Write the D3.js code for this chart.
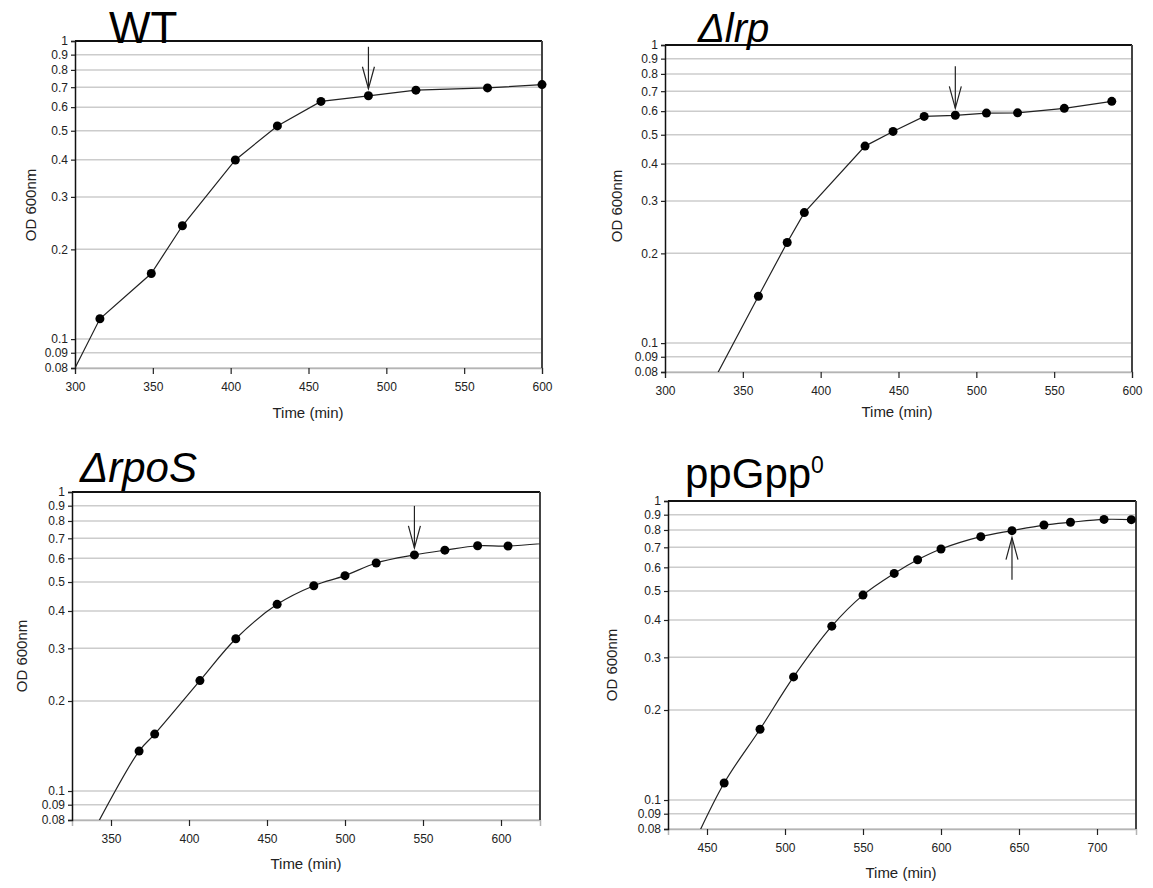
<!DOCTYPE html>
<html>
<head>
<meta charset="utf-8">
<script src="https://cdn.jsdelivr.net/npm/d3@7/dist/d3.min.js"></script>
<style>
  html, body { margin: 0; padding: 0; background: #ffffff; }
  svg { display: block; font-family: "Liberation Sans", Arial, sans-serif; }
</style>
</head>
<body>
<svg id="chart" width="1153" height="888"></svg>
<script>
// ---------------- DATA ----------------
const yTickValues = [0.08, 0.09, 0.1, 0.2, 0.3, 0.4, 0.5, 0.6, 0.7, 0.8, 0.9, 1];

// WT
const wtTime = [285, 316, 349, 369, 403, 430, 458, 488.5, 519, 565, 600];
const wtOD   = [0.056, 0.117, 0.166, 0.240, 0.399, 0.519, 0.627, 0.655, 0.684, 0.696, 0.714];
const wtXTicks = [300, 350, 400, 450, 500, 550, 600];
const wtArrow = [488.5, 0.655];

// Δlrp
const lrpTime = [320, 360, 378.5, 389.5, 428.5, 446.5, 466.5, 486.5, 506.5, 526.5, 556.5, 587];
const lrpOD   = [0.058, 0.1436, 0.2175, 0.274, 0.458, 0.513, 0.576, 0.581, 0.591, 0.592, 0.613, 0.647];
const lrpXTicks = [300, 350, 400, 450, 500, 550, 600];
const lrpArrow = [486.5, 0.581];

// ΔrpoS
const rpoTime = [330, 368, 378, 407, 430, 456.5, 480, 500, 520, 544.5, 564, 585, 604.5, 645];
const rpoOD   = [0.060, 0.136, 0.155, 0.234, 0.323, 0.421, 0.486, 0.525, 0.579, 0.616, 0.639, 0.661, 0.660, 0.686];
const rpoXTicks = [350, 400, 450, 500, 550, 600];
const rpoArrow = [544.5, 0.616];

// ppGpp0
const ppTime = [440, 461, 484, 505.5, 530, 550, 570, 585, 600, 625.5, 645.5, 666, 683, 704.5, 722];
const ppOD   = [0.0686, 0.114, 0.1725, 0.258, 0.3815, 0.4845, 0.5725, 0.636, 0.691, 0.760, 0.796, 0.831, 0.849, 0.868, 0.866];
const ppXTicks = [450, 500, 550, 600, 650, 700];
const ppArrow = [645.5, 0.796];

// ---------------- LAYOUT ----------------
const panels = [
  { id: "wt",  time: wtTime,  od: wtOD,  xDomain: [300, 600], xTicks: wtXTicks, arrow: wtArrow, arrowDir: "down", smooth: false,
    box: { left: 75, right: 542, top: 41, bottom: 368 },
    title: { x: 109, y: 43, size: 44, parts: [{ t: "WT" }] },
    yLabel: { x: 31, y: 205 }, xLabel: { x: 308, y: 418 } },
  { id: "lrp", time: lrpTime, od: lrpOD, xDomain: [300, 600], xTicks: lrpXTicks, arrow: lrpArrow, arrowDir: "down", smooth: false,
    box: { left: 665, right: 1132, top: 45, bottom: 372 },
    title: { x: 698, y: 42, size: 40, parts: [{ t: "\u0394lrp", italic: true }] },
    yLabel: { x: 617, y: 206 }, xLabel: { x: 897, y: 417 } },
  { id: "rpo", time: rpoTime, od: rpoOD, xDomain: [325, 625], xTicks: rpoXTicks, arrow: rpoArrow, arrowDir: "down", smooth: true,
    box: { left: 72, right: 540, top: 492, bottom: 820 },
    title: { x: 80, y: 482, size: 42, parts: [{ t: "\u0394rpoS", italic: true }] },
    yLabel: { x: 22, y: 656 }, xLabel: { x: 306, y: 869 } },
  { id: "pp",  time: ppTime,  od: ppOD,  xDomain: [425, 725], xTicks: ppXTicks, arrow: ppArrow, arrowDir: "up", smooth: true,
    box: { left: 668, right: 1136, top: 501, bottom: 829 },
    title: { x: 685, y: 488, size: 42, parts: [{ t: "ppGpp" }, { t: "0", sup: true }] },
    yLabel: { x: 612, y: 665 }, xLabel: { x: 901, y: 878 } }
];

const svg = d3.select("#chart");
const font = '"Liberation Sans", Arial, sans-serif';

panels.forEach(p => {
  const b = p.box;
  const x = d3.scaleLinear().domain(p.xDomain).range([b.left, b.right]);
  const y = d3.scaleLog().domain([0.08, 1]).range([b.bottom, b.top]);
  const g = svg.append("g").attr("class", "panel-" + p.id);

  // clip
  const clipId = "clip-" + p.id;
  svg.append("defs").append("clipPath").attr("id", clipId)
    .append("rect").attr("x", b.left).attr("y", b.top)
    .attr("width", b.right - b.left).attr("height", b.bottom - b.top);

  // gridlines
  g.append("g").selectAll("line").data(yTickValues).join("line")
    .attr("x1", b.left).attr("x2", b.right)
    .attr("y1", d => y(d)).attr("y2", d => y(d))
    .attr("stroke", "#cccccc").attr("stroke-width", 1.5);

  // bottom axis
  const xAxis = d3.axisBottom(x).tickValues(p.xTicks).tickSize(6).tickPadding(8).tickFormat(d3.format("d"));
  const xg = g.append("g").attr("transform", `translate(0,${b.bottom})`).call(xAxis);
  xg.select(".domain").attr("stroke", "#b4b4b4").attr("stroke-width", 1.5);
  xg.selectAll(".tick line").attr("stroke", "#222").attr("stroke-width", 1.2);
  xg.selectAll(".tick text").attr("fill", "#222").style("font-family", font).style("font-size", "12px");

  // left axis
  const yAxis = d3.axisLeft(y).tickValues(yTickValues).tickSize(4).tickPadding(3).tickFormat(d => String(d));
  const yg = g.append("g").attr("transform", `translate(${b.left},0)`).call(yAxis);
  yg.select(".domain").attr("stroke", "#111").attr("stroke-width", 1.5);
  yg.selectAll(".tick line").attr("stroke", "#222").attr("stroke-width", 1.2);
  yg.selectAll(".tick text").attr("fill", "#222").style("font-family", font).style("font-size", "12px");

  // top and right border
  g.append("line").attr("x1", b.left).attr("x2", b.right).attr("y1", b.top).attr("y2", b.top)
    .attr("stroke", "#111").attr("stroke-width", 2);
  g.append("line").attr("x1", b.right).attr("x2", b.right).attr("y1", b.top).attr("y2", b.bottom)
    .attr("stroke", "#444").attr("stroke-width", 2);

  // data
  const pts = p.time.map((t, i) => ({ t, v: p.od[i] }));
  const line = d3.line().x(d => x(d.t)).y(d => y(d.v))
    .curve(p.smooth ? d3.curveCatmullRom.alpha(0.5) : d3.curveLinear);
  g.append("path").datum(pts).attr("clip-path", `url(#${clipId})`)
    .attr("d", line).attr("fill", "none").attr("stroke", "#222").attr("stroke-width", 1.2);

  const visible = pts.filter(d => d.t >= p.xDomain[0] && d.t <= p.xDomain[1] && d.v >= 0.08);
  g.append("g").selectAll("circle").data(visible).join("circle")
    .attr("cx", d => x(d.t)).attr("cy", d => y(d.v)).attr("r", 4.5).attr("fill", "#000");

  // arrow
  const ax = x(p.arrow[0]), ay = y(p.arrow[1]);
  const dir = p.arrowDir === "down" ? -1 : 1;
  const tipY = ay + dir * 7;
  const tailY = tipY + dir * 42;
  const headY = tipY + dir * 22;
  const ag = g.append("g").attr("stroke", "#222").attr("stroke-width", 1.2).attr("fill", "none");
  ag.append("line").attr("x1", ax).attr("x2", ax).attr("y1", tailY).attr("y2", tipY);
  ag.append("path").attr("d", `M${ax - 6},${headY}L${ax},${tipY}L${ax + 6},${headY}`);

  // title
  const tt = svg.append("text").attr("x", p.title.x).attr("y", p.title.y)
    .style("font-family", font).style("font-size", p.title.size + "px").attr("fill", "#000");
  p.title.parts.forEach(part => {
    const ts = tt.append("tspan").text(part.t);
    if (part.italic) ts.style("font-style", "italic");
    if (part.sup) ts.style("font-size", Math.round(p.title.size * 0.55) + "px").attr("dy", -p.title.size * 0.36);
  });

  // axis titles
  svg.append("text").attr("transform", `translate(${p.yLabel.x},${p.yLabel.y}) rotate(-90)`)
    .attr("text-anchor", "middle").attr("dy", "0.35em")
    .style("font-family", font).style("font-size", "15px").attr("fill", "#222").text("OD 600nm");
  svg.append("text").attr("x", p.xLabel.x).attr("y", p.xLabel.y)
    .attr("text-anchor", "middle")
    .style("font-family", font).style("font-size", "15px").attr("fill", "#222").text("Time (min)");
});
</script>
</body>
</html>
